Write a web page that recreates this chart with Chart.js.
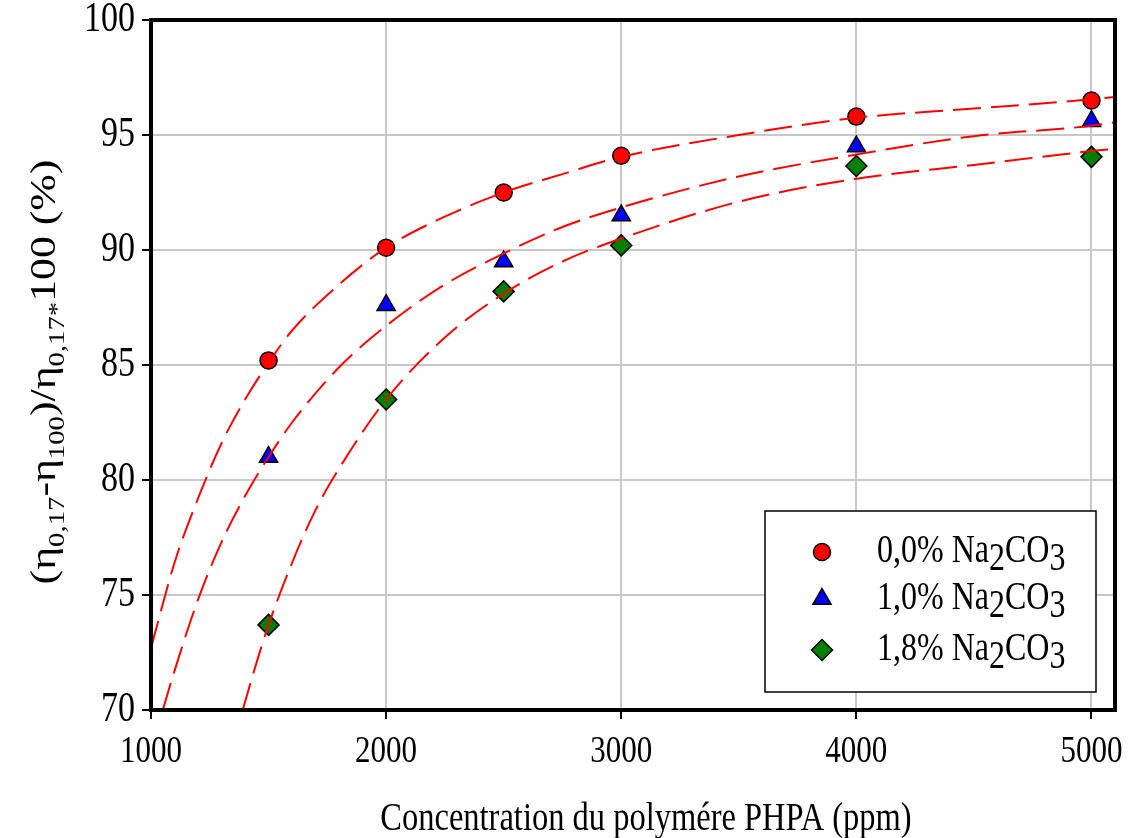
<!DOCTYPE html>
<html>
<head>
<meta charset="utf-8">
<script src="https://cdn.jsdelivr.net/npm/chart.js@4.4.1/dist/chart.umd.min.js"></script>
<style>
  html, body { margin: 0; padding: 0; background: #fff; }
  #wrap { width: 1132px; height: 838px; position: relative; }
</style>
</head>
<body>
<div id="wrap"><canvas id="c" width="1132" height="838"></canvas></div>
<script>
// Measured points: polymer concentration (ppm) vs. viscosity loss (%)
const concentrations = [1500, 2000, 2500, 3000, 4000, 5000];
const loss00 = [85.2, 90.1, 92.5, 94.1, 95.8, 96.5];
const loss10 = [81.0, 87.6, 89.5, 91.5, 94.5, 95.6];
const loss18 = [73.7, 83.5, 88.2, 90.2, 93.65, 94.05];

// Fitted trend curves (dashed)
const fitX00 = [1000, 1100, 1200, 1300, 1400, 1500, 1600, 1800, 2000, 2250, 2500, 2750, 3000, 3500, 4000, 4500, 5000, 5100];
const fitY00 = [72.7, 76.4, 79.2, 81.6, 83.5, 85.1, 86.5, 88.5, 90.1, 91.45, 92.5, 93.3, 94.05, 95.0, 95.75, 96.15, 96.55, 96.65];
const fitX10 = [1050, 1100, 1200, 1300, 1400, 1500, 1600, 1800, 2000, 2250, 2500, 2750, 3000, 3500, 4000, 4500, 5000, 5100];
const fitY10 = [70.0, 71.7, 74.8, 77.3, 79.3, 81.0, 82.5, 84.9, 86.7, 88.5, 89.85, 91.0, 91.85, 93.2, 94.15, 94.95, 95.4, 95.55];
const fitX18 = [1390, 1450, 1500, 1600, 1700, 1800, 2000, 2250, 2500, 2750, 3000, 3500, 4000, 4500, 5000, 5100];
const fitY18 = [70.0, 72.1, 73.7, 76.4, 78.7, 80.5, 83.5, 86.2, 88.1, 89.5, 90.5, 92.1, 93.1, 93.7, 94.3, 94.4];

// Axis ticks
const xTicks = [1000, 2000, 3000, 4000, 5000];
const yTicks = [70, 75, 80, 85, 90, 95, 100];

// Legend text pieces: [text, isSubscript]
const legendLabels = [
  [["0,0% Na", false], ["2", true], ["CO", false], ["3", true]],
  [["1,0% Na", false], ["2", true], ["CO", false], ["3", true]],
  [["1,8% Na", false], ["2", true], ["CO", false], ["3", true]]
];
const yTitle = [["(η", false], ["0,17", true], ["-η", false], ["100", true], [")/η", false], ["0,17*", true], ["100 (%)", false]];
const xTitle = "Concentration du polymére PHPA (ppm)";

const FONT = "'Liberation Serif', 'Times New Roman', serif";
const STRETCH = 1.25; // glyphs are set taller than wide

const pts = (xs, ys) => xs.map((x, i) => ({ x: x, y: ys[i] }));

const markerStyles = [
  { pointStyle: 'circle', radius: 8.5, color: '#ff0000' },
  { pointStyle: 'triangle', radius: 10.5, color: '#0000ff' },
  { pointStyle: 'rectRot', radius: 10.5, color: '#008000' }
];

function fitDataset(xs, ys) {
  return {
    type: 'line',
    data: pts(xs, ys),
    borderColor: '#ff0000',
    borderWidth: 2,
    borderDash: [28, 10],
    pointRadius: 0,
    fill: false,
    cubicInterpolationMode: 'monotone',
    order: 0
  };
}
function markerDataset(ys, s) {
  return {
    type: 'scatter',
    data: pts(concentrations, ys),
    pointStyle: s.pointStyle,
    pointRadius: s.radius,
    pointHoverRadius: s.radius,
    backgroundColor: s.color,
    borderColor: '#000',
    borderWidth: 1.5,
    order: 1
  };
}

// Text runs (normal / subscript) drawn from a baseline origin
function drawRuns(ctx, runs, x, y, size, subSize, subDrop) {
  let cx = x;
  runs.forEach(([t, sub]) => {
    ctx.font = (sub ? subSize : size) + 'px ' + FONT;
    ctx.fillText(t, cx, sub ? y + subDrop : y);
    cx += ctx.measureText(t).width;
  });
  return cx - x;
}
function runsWidth(ctx, runs, size, subSize) {
  let w = 0;
  runs.forEach(([t, sub]) => {
    ctx.font = (sub ? subSize : size) + 'px ' + FONT;
    w += ctx.measureText(t).width;
  });
  return w;
}
function stretchedText(ctx, text, x, y, size, align, baseline) {
  ctx.save();
  ctx.translate(x, y);
  ctx.scale(1, STRETCH);
  ctx.font = size + 'px ' + FONT;
  ctx.textAlign = align;
  ctx.textBaseline = baseline;
  ctx.fillText(text, 0, 0);
  ctx.restore();
}

const decorations = {
  id: 'decorations',
  afterDraw(chart) {
    const ctx = chart.ctx;
    const a = chart.chartArea;
    const xs = chart.scales.x, ys = chart.scales.y;
    ctx.save();
    // Frame around the plot area
    ctx.strokeStyle = '#000';
    ctx.lineWidth = 4;
    ctx.strokeRect(a.left, a.top, a.right - a.left, a.bottom - a.top);

    // Tick labels
    ctx.fillStyle = '#000';
    xTicks.forEach(v => stretchedText(ctx, String(v), xs.getPixelForValue(v), a.bottom + 52, 31, 'center', 'alphabetic'));
    yTicks.forEach(v => stretchedText(ctx, String(v), a.left - 16, ys.getPixelForValue(v), 34, 'right', 'middle'));

    // Legend box
    const bx = 765, by = 511, bw = 331, bh = 181;
    ctx.fillStyle = '#fff';
    ctx.fillRect(bx, by, bw, bh);
    ctx.strokeStyle = '#000';
    ctx.lineWidth = 1.5;
    ctx.strokeRect(bx, by, bw, bh);
    const rowsY = [552, 599, 650];
    legendLabels.forEach((runs, i) => {
      const s = markerStyles[i];
      ctx.fillStyle = s.color;
      ctx.strokeStyle = '#000';
      ctx.lineWidth = 1.5;
      Chart.helpers.drawPoint(ctx, { pointStyle: s.pointStyle, radius: s.radius, rotation: 0, borderWidth: 1.5 }, 822, rowsY[i]);
      ctx.fillStyle = '#000';
      ctx.textBaseline = 'alphabetic';
      ctx.textAlign = 'left';
      ctx.save();
      ctx.translate(877, rowsY[i] + 10);
      ctx.scale(1, STRETCH);
      drawRuns(ctx, runs, 0, 0, 32, 32, 6);
      ctx.restore();
    });

    // X axis title
    stretchedText(ctx, xTitle, (a.left + a.right) / 2 + 13, 830, 32.5, 'center', 'alphabetic');

    // Y axis title (rotated, with subscripts)
    ctx.save();
    ctx.fillStyle = '#000';
    ctx.textAlign = 'left';
    ctx.textBaseline = 'alphabetic';
    const w = runsWidth(ctx, yTitle, 35, 23);
    ctx.translate(55, 372);
    ctx.scale(1, STRETCH);
    ctx.rotate(-Math.PI / 2);
    drawRuns(ctx, yTitle, -w / 2, 0, 35, 23, 9);
    ctx.restore();
    ctx.restore();
  }
};

new Chart(document.getElementById('c'), {
  type: 'scatter',
  data: {
    datasets: [
      fitDataset(fitX00, fitY00),
      fitDataset(fitX10, fitY10),
      fitDataset(fitX18, fitY18),
      markerDataset(loss00, markerStyles[0]),
      markerDataset(loss10, markerStyles[1]),
      markerDataset(loss18, markerStyles[2])
    ]
  },
  options: {
    responsive: false,
    animation: false,
    events: [],
    layout: { padding: { top: 20, right: 17, left: 0, bottom: 0 } },
    plugins: { legend: { display: false }, tooltip: { enabled: false } },
    scales: {
      x: {
        type: 'linear',
        min: 1000,
        max: 5100,
        afterBuildTicks(scale) { scale.ticks = xTicks.map(v => ({ value: v })); },
        afterFit(scale) { scale.height = 128; },
        grid: { color: '#c8c8c8', lineWidth: 2, tickLength: 9, tickColor: '#000', tickWidth: 2 },
        border: { display: false },
        ticks: { display: false }
      },
      y: {
        type: 'linear',
        min: 70,
        max: 100,
        afterBuildTicks(scale) { scale.ticks = yTicks.map(v => ({ value: v })); },
        afterFit(scale) { scale.width = 151; },
        grid: { color: '#c8c8c8', lineWidth: 2, tickLength: 9, tickColor: '#000', tickWidth: 2 },
        border: { display: false },
        ticks: { display: false }
      }
    }
  },
  plugins: [decorations]
});
</script>
</body>
</html>
